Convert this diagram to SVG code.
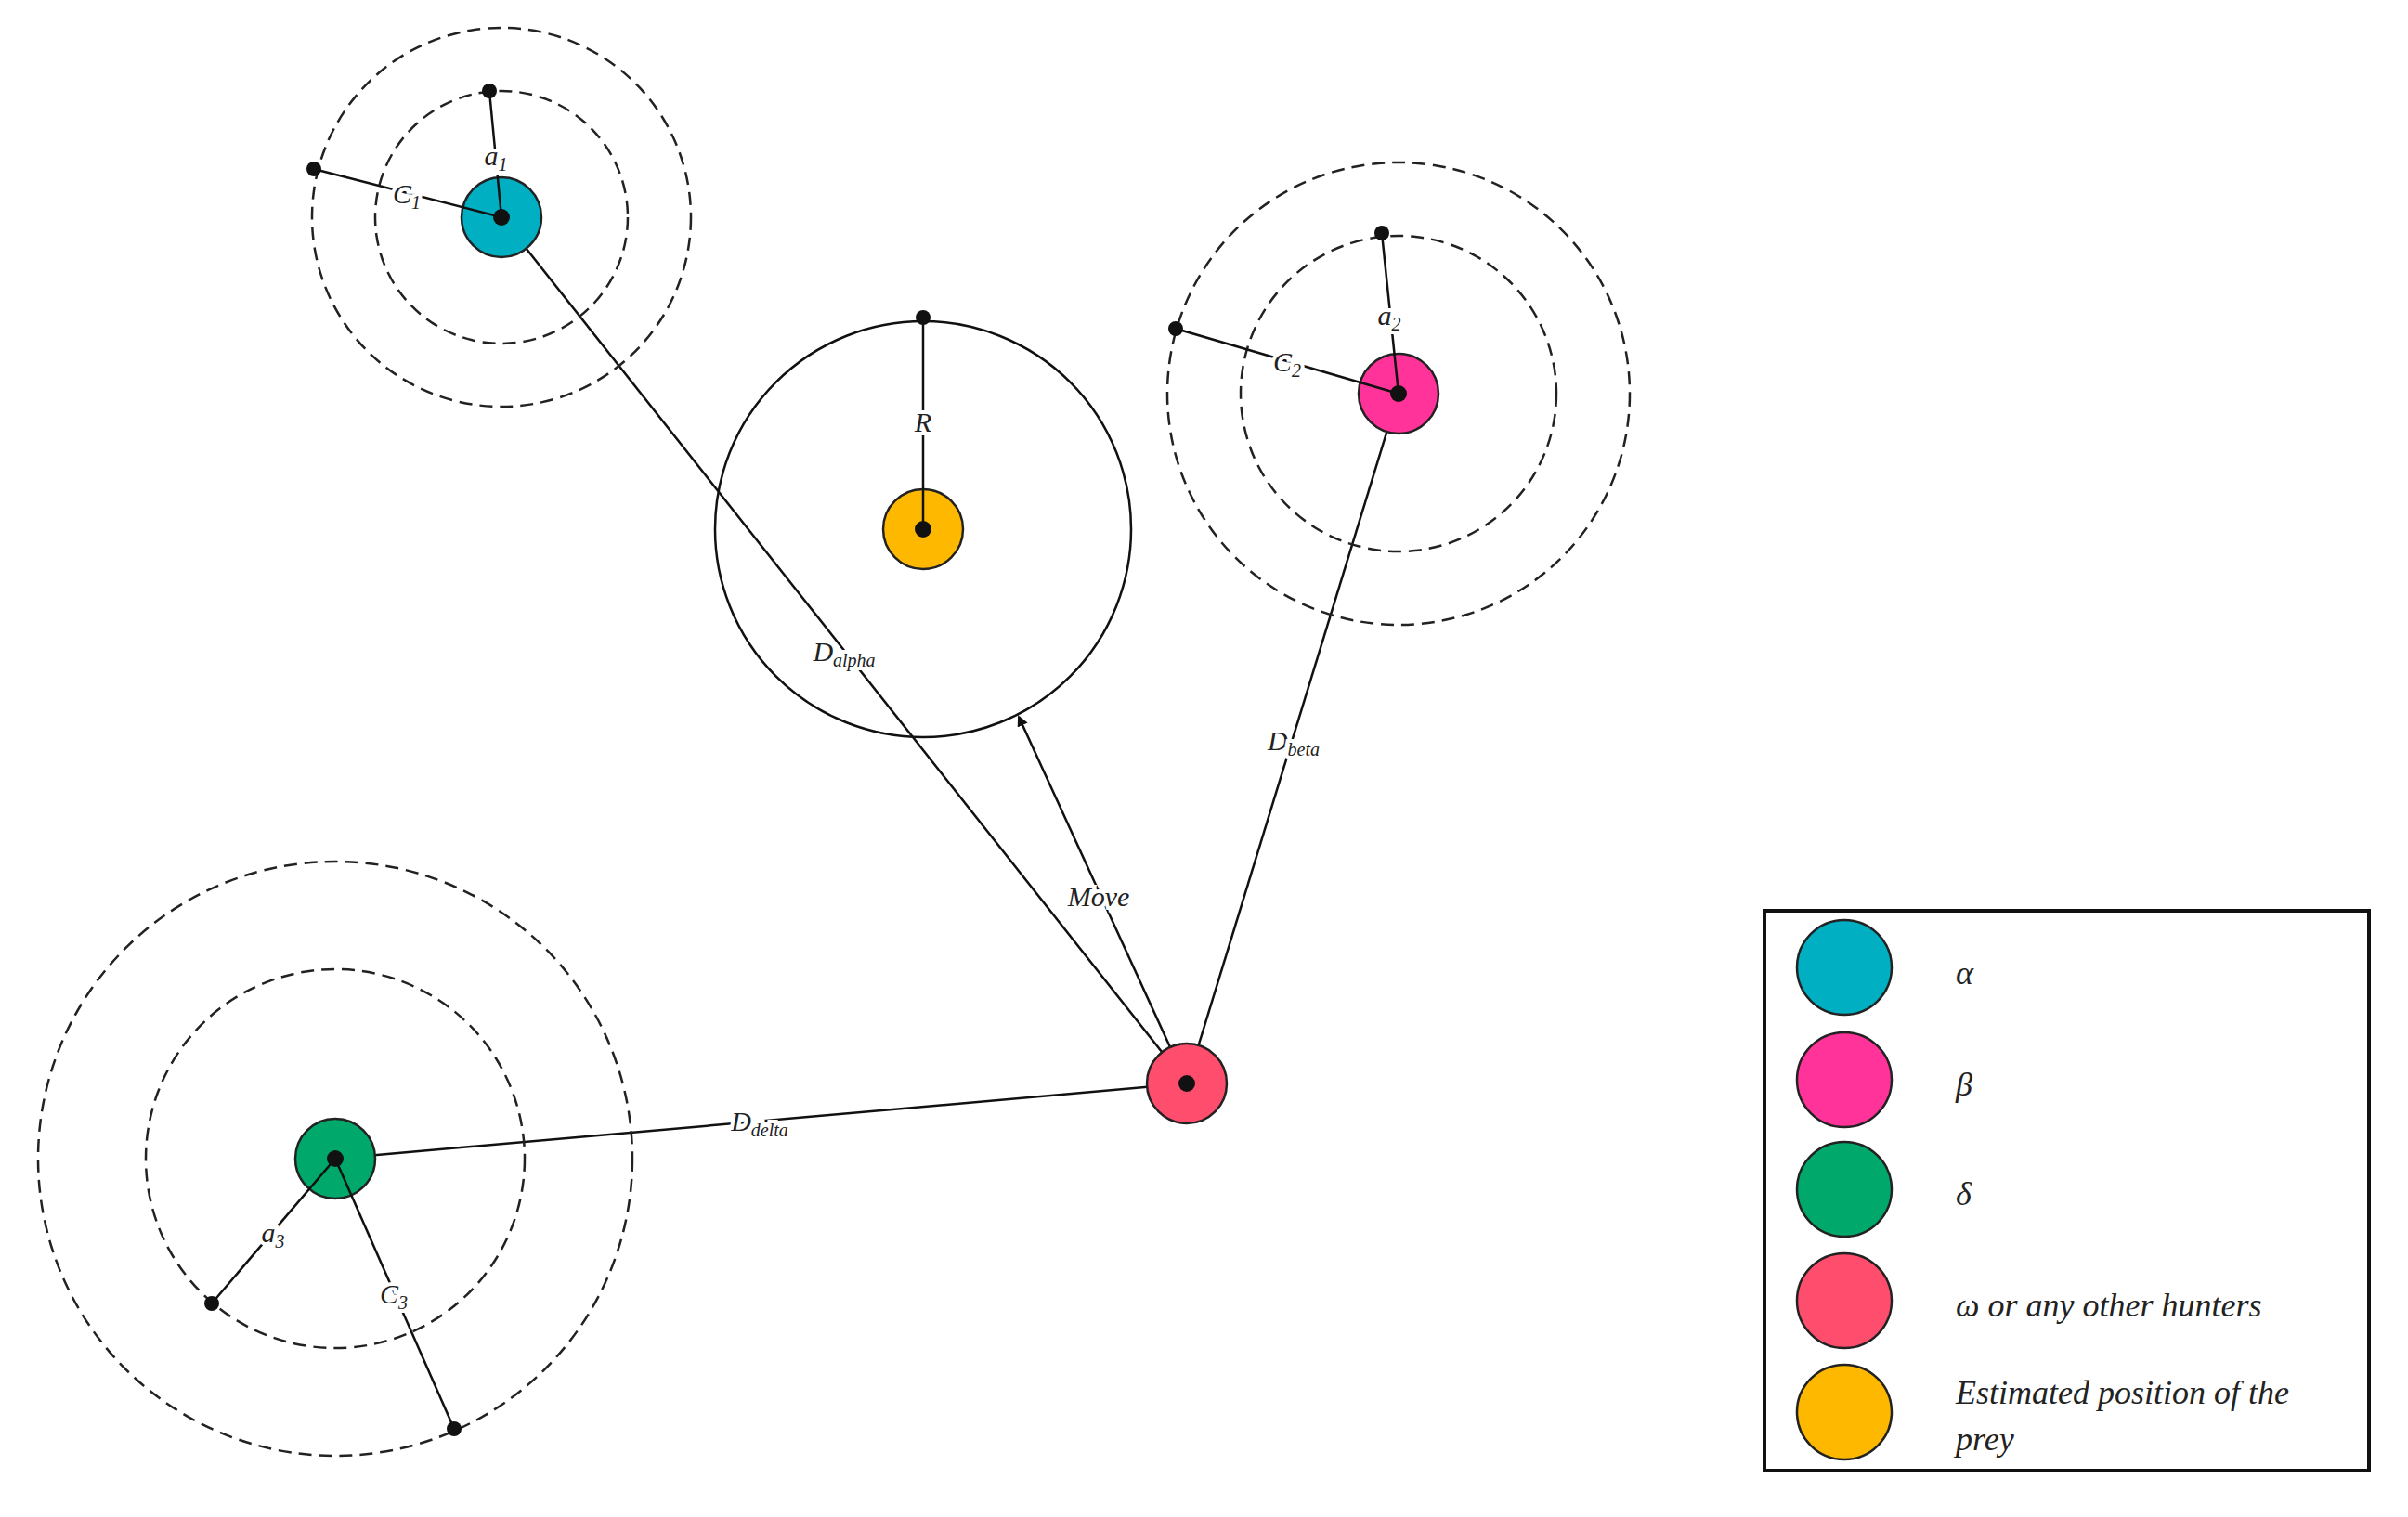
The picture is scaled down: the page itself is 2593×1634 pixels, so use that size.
<svg xmlns="http://www.w3.org/2000/svg" width="2593" height="1634" viewBox="0 0 2593 1634">
<style>
.d{fill:none;stroke:#222;stroke-width:2.5;stroke-dasharray:14 8}
.l{stroke:#111;stroke-width:2.5;fill:none}
.dot{fill:#111}
.n{stroke:#222;stroke-width:2.5}
.t{font-family:"Liberation Serif",serif;font-style:italic;font-size:30px;fill:#222;text-anchor:middle;paint-order:stroke;stroke:#fff;stroke-width:8px}
.s{font-size:20px}
.lg{font-family:"Liberation Serif",serif;font-style:italic;font-size:36px;fill:#222}
</style>
<defs>
<marker id="ar" markerWidth="12" markerHeight="12" refX="10" refY="6" orient="auto" markerUnits="userSpaceOnUse" viewBox="0 0 12 12"><path d="M0,0 L12,6 L0,12 z" fill="#111"/></marker>
</defs>
<rect width="2593" height="1634" fill="#fff"/>
<g id="connectors">
<line class="l" x1="1278" y1="1167" x2="540" y2="234"/>
<line class="l" x1="1278" y1="1167" x2="1506" y2="424"/>
<line class="l" x1="1278" y1="1167" x2="361" y2="1248"/>
<line class="l" x1="1278" y1="1167" x2="1097" y2="772" marker-end="url(#ar)" style="stroke-width:2.5"/>
</g>
<g id="alpha">
<circle class="d" cx="540" cy="234" r="136"/>
<circle class="d" cx="540" cy="234" r="204"/>
<circle class="n" cx="540" cy="234" r="43" fill="#00AFC2"/>
<line class="l" x1="540" y1="234" x2="527" y2="98"/>
<line class="l" x1="540" y1="234" x2="338" y2="182"/>
<circle class="dot" cx="540" cy="234" r="9"/>
<circle class="dot" cx="527" cy="98" r="8"/>
<circle class="dot" cx="338" cy="182" r="8"/>
<text class="t" x="534" y="178">a<tspan class="s" dy="6">1</tspan></text>
<text class="t" x="438" y="219">C<tspan class="s" dy="6">1</tspan></text>
</g>
<g id="prey">
<circle class="l" cx="994" cy="570" r="224"/>
<circle class="n" cx="994" cy="570" r="43" fill="#FFB800"/>
<line class="l" x1="994" y1="570" x2="994" y2="342"/>
<circle class="dot" cx="994" cy="570" r="9"/>
<circle class="dot" cx="994" cy="342" r="8"/>
<text class="t" x="994" y="465">R</text>
</g>
<g id="beta">
<circle class="d" cx="1506" cy="424" r="170"/>
<circle class="d" cx="1506" cy="424" r="249"/>
<circle class="n" cx="1506" cy="424" r="43" fill="#FF3399"/>
<line class="l" x1="1506" y1="424" x2="1488" y2="251"/>
<line class="l" x1="1506" y1="424" x2="1266" y2="354"/>
<circle class="dot" cx="1506" cy="424" r="9"/>
<circle class="dot" cx="1488" cy="251" r="8"/>
<circle class="dot" cx="1266" cy="354" r="8"/>
<text class="t" x="1496" y="350">a<tspan class="s" dy="6">2</tspan></text>
<text class="t" x="1386" y="400">C<tspan class="s" dy="6">2</tspan></text>
</g>
<g id="delta">
<circle class="d" cx="361" cy="1248" r="204"/>
<circle class="d" cx="361" cy="1248" r="320"/>
<circle class="n" cx="361" cy="1248" r="43" fill="#00A86B"/>
<line class="l" x1="361" y1="1248" x2="228" y2="1404"/>
<line class="l" x1="361" y1="1248" x2="489" y2="1539"/>
<circle class="dot" cx="361" cy="1248" r="9"/>
<circle class="dot" cx="228" cy="1404" r="8"/>
<circle class="dot" cx="489" cy="1539" r="8"/>
<text class="t" x="294" y="1338">a<tspan class="s" dy="6">3</tspan></text>
<text class="t" x="424" y="1404">C<tspan class="s" dy="6">3</tspan></text>
</g>
<g id="omega">
<circle class="n" cx="1278" cy="1167" r="43" fill="#FF4D6D"/>
<circle class="dot" cx="1278" cy="1167" r="9"/>
</g>
<g id="labels">
<text class="t" x="909" y="712">D<tspan class="s" dy="6">alpha</tspan></text>
<text class="t" x="1393" y="808">D<tspan class="s" dy="6">beta</tspan></text>
<text class="t" x="818" y="1218">D<tspan class="s" dy="6">delta</tspan></text>
<text class="t" x="1183" y="976">Move</text>
</g>
<g id="legend">
<rect x="1900" y="981" width="651" height="603" fill="#fff" stroke="#111" stroke-width="4"/>
<circle class="n" cx="1986" cy="1042" r="51" fill="#00AFC2"/>
<circle class="n" cx="1986" cy="1163" r="51" fill="#FF3399"/>
<circle class="n" cx="1986" cy="1281" r="51" fill="#00A86B"/>
<circle class="n" cx="1986" cy="1401" r="51" fill="#FF4D6D"/>
<circle class="n" cx="1986" cy="1521" r="51" fill="#FFB800"/>
<text class="lg" x="2106" y="1060">α</text>
<text class="lg" x="2106" y="1180">β</text>
<text class="lg" x="2106" y="1298">δ</text>
<text class="lg" x="2106" y="1418">ω or any other hunters</text>
<text class="lg" x="2106" y="1512">Estimated position of the</text>
<text class="lg" x="2106" y="1562">prey</text>
</g>
</svg>
